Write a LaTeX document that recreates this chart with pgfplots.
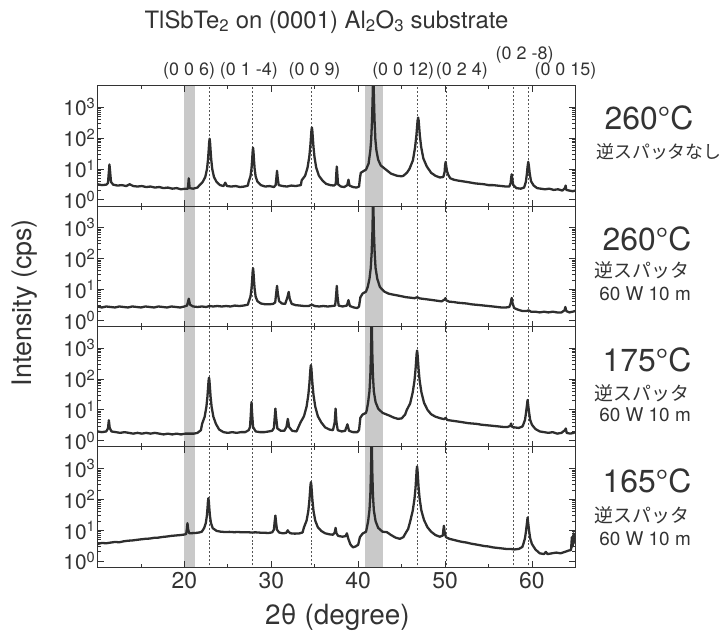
\documentclass[border=0pt]{standalone}
\usepackage{pgfplots}
\pgfplotsset{compat=1.18}
\usepackage{fontspec}
\setmainfont{TeX Gyre Heros}
\newfontfamily\jp{Noto Sans CJK JP}
\definecolor{ink}{HTML}{333333}
\definecolor{curve}{HTML}{2E2E2E}
\definecolor{band}{HTML}{C9C9C9}
\definecolor{guide}{HTML}{555555}

% gray substrate bands + dashed reflection guides, drawn inside each panel
\newcommand\decor{%
  \fill[band] (axis cs:19.9,0.3) rectangle (axis cs:21.2,9000);
  \fill[band] (axis cs:40.8,0.3) rectangle (axis cs:42.8,9000);
  \draw[guide, line width=0.7pt, dash pattern=on 2pt off 2pt] (axis cs:22.9,0.3) -- (axis cs:22.9,9000);
  \draw[guide, line width=0.7pt, dash pattern=on 2pt off 2pt] (axis cs:27.8,0.3) -- (axis cs:27.8,9000);
  \draw[guide, line width=0.7pt, dash pattern=on 2pt off 2pt] (axis cs:34.6,0.3) -- (axis cs:34.6,9000);
  \draw[guide, line width=0.7pt, dash pattern=on 2pt off 2pt] (axis cs:46.8,0.3) -- (axis cs:46.8,9000);
  \draw[guide, line width=0.7pt, dash pattern=on 2pt off 2pt] (axis cs:50.1,0.3) -- (axis cs:50.1,9000);
  \draw[guide, line width=0.7pt, dash pattern=on 2pt off 2pt] (axis cs:57.85,0.3) -- (axis cs:57.85,9000);
  \draw[guide, line width=0.7pt, dash pattern=on 2pt off 2pt] (axis cs:59.6,0.3) -- (axis cs:59.6,9000);
}

\pgfplotsset{
  xrd/.style={
    anchor=south west, scale only axis, width=480pt, height=121pt,
    xmin=10, xmax=65, ymin=0.63, ymax=5000,
    axis on top, axis line style={ink, line width=1.1pt},
    xtick={20,30,40,50,60}, minor xtick={15,25,35,45,55},
    xticklabels={20,30,40,50,60},
    ytick={1,10,100,1000},
    yticklabels={10\textsuperscript{0},10\textsuperscript{1},10\textsuperscript{2},10\textsuperscript{3}},
    tick align=inside, tick style={ink, line width=0.8pt},
    major tick length=6pt, minor tick length=3.5pt,
    yticklabel style={font=\fontsize{21}{21}\selectfont, text=ink, inner sep=2pt},
    xticklabel style={font=\fontsize{23}{23}\selectfont, text=ink, yshift=-1pt},
  },
  upper/.style={xticklabels={}},
  spec/.style={curve, line width=2.3pt, line join=round, mark=none},
}

\begin{document}
\begin{tikzpicture}[x=1pt, y=1pt]
\path (0,0) rectangle (725,632);

% ---- panel 1: 260 C, no reverse sputtering
\begin{semilogyaxis}[xrd, upper, at={(98pt,425pt)}]
\decor
\addplot[spec] coordinates {
(10.0,3.2)(10.5,3.0)(11.0,3.1)(11.2,3.5)(11.3,8)(11.37,14)(11.45,8)(11.55,3.8)(11.8,3.1)(12.3,2.9)
(12.8,3.0)(13.3,2.8)(13.7,3.2)(14.1,2.8)(14.6,2.7)(15.1,2.8)(15.6,2.6)(16.1,2.7)(16.6,2.5)(17.1,2.6)
(17.6,2.4)(18.1,2.5)(18.6,2.3)(19.1,2.4)(19.6,2.2)(20.1,2.3)(20.4,2.3)(20.5,5)(20.6,2.4)(21.0,2.3)
(21.5,2.5)(21.7,2.9)(22.1,3.8)(22.4,5.5)(22.6,10)(22.72,21)(22.8,44)(22.85,73)(22.9,95)(22.95,73)
(23.0,44)(23.08,21)(23.2,10)(23.4,5.5)(23.7,3.8)(24.1,3.0)(24.5,2.8)(24.7,3.6)(24.9,2.8)(25.4,2.7)
(25.9,2.8)(26.4,2.6)(26.9,2.7)(27.3,2.9)(27.4,3.9)(27.6,5.7)(27.72,10.3)(27.8,20.6)(27.85,36)(27.9,49)
(27.95,36)(28.0,20.6)(28.08,10.3)(28.2,5.7)(28.4,3.9)(28.8,3.0)(29.3,2.7)(29.8,2.8)(30.3,2.6)(30.5,3.0)
(30.58,5)(30.66,8.7)(30.74,5)(30.85,3.0)(31.3,2.8)(31.8,2.7)(32.3,2.9)(32.8,2.8)(33.4,3.0)(33.5,4.3)
(33.9,6.1)(34.17,11)(34.37,24.5)(34.49,54)(34.57,111)(34.62,177)(34.67,220)(34.72,177)(34.77,111)(34.85,54)
(34.97,24.5)(35.17,11)(35.47,6.1)(35.87,4.3)(36.3,3.3)(36.8,3.0)(37.2,2.9)(37.42,3.2)(37.48,7)(37.54,12)
(37.6,7)(37.68,3.2)(38.0,2.7)(38.4,2.6)(38.75,3.0)(38.88,4.5)(39.0,2.9)(39.4,2.6)(39.8,2.5)(40.1,2.7)
(40.2,5)(40.3,7.5)(40.6,8.5)(40.9,9.5)(41.0,11)(41.2,15)(41.4,40)(41.5,90)(41.6,400)(41.68,3000)
(41.74,20000)(41.8,3000)(41.88,400)(41.98,90)(42.1,40)(42.3,20)(42.6,13)(43.1,10)(43.8,7)(44.5,6)
(45.0,5.8)(45.2,6.0)(45.6,7.5)(45.9,10)(46.3,19)(46.55,50)(46.7,120)(46.78,230)(46.84,370)(46.9,460)
(46.96,370)(47.02,230)(47.1,120)(47.25,52)(47.5,22)(47.9,12)(48.4,7.5)(48.9,6.0)(49.4,5.3)(49.8,5.5)
(49.95,8)(50.0,13)(50.07,17)(50.14,12)(50.25,8)(50.4,6.2)(50.6,5)(51.0,4.5)(51.5,4.2)(52.0,4.0)
(52.5,3.8)(53.0,3.6)(53.5,3.4)(54.0,3.3)(54.5,3.2)(55.0,3.0)(55.5,3.0)(56.0,2.9)(56.5,2.8)(57.0,2.7)
(57.4,2.7)(57.55,3.5)(57.62,5.5)(57.67,6.7)(57.73,5.0)(57.85,3.0)(58.2,2.4)(58.7,2.3)(59.1,2.5)(59.3,3.8)
(59.42,7)(59.5,12)(59.58,17)(59.66,12)(59.75,7)(59.9,4)(60.2,2.9)(60.6,2.4)(61.0,2.3)(61.5,2.2)
(62.0,2.3)(62.5,2.1)(63.0,2.2)(63.5,2.0)(63.8,2.4)(63.88,2.9)(63.95,2.1)(64.3,2.0)(64.7,1.9)(65.0,2.0)
};
\end{semilogyaxis}

% ---- panel 2: 260 C, reverse sputtering 60 W 10 min
\begin{semilogyaxis}[xrd, upper, at={(98pt,304pt)}]
\decor
\addplot[spec] coordinates {
(10.0,2.8)(10.5,2.6)(11.0,2.8)(11.5,2.7)(12.0,2.6)(12.5,2.8)(13.0,2.7)(13.5,2.6)(14.0,2.8)(14.5,2.7)
(15.0,2.6)(15.5,2.8)(16.0,2.7)(16.5,2.6)(17.0,2.8)(17.5,2.7)(18.0,2.6)(18.5,2.8)(19.0,2.7)(19.5,2.6)
(20.0,2.8)(20.3,3.0)(20.5,5.0)(20.65,3.2)(21.0,2.8)(21.5,2.7)(22.0,2.8)(22.5,2.7)(22.9,2.9)(23.3,2.8)
(23.8,2.9)(24.3,2.8)(24.8,2.9)(25.3,2.8)(25.8,3.0)(26.3,2.9)(26.8,3.0)(27.3,3.2)(27.4,4.0)(27.6,5.8)
(27.72,10.5)(27.8,21)(27.85,36)(27.9,49)(27.95,36)(28.0,21)(28.08,10.5)(28.2,5.8)(28.4,4.2)(28.8,3.5)
(29.3,3.3)(29.8,3.3)(30.2,3.4)(30.45,3.8)(30.55,7)(30.66,13)(30.75,7.5)(30.9,4.2)(31.2,3.5)(31.6,3.4)
(31.85,5.5)(32.0,8.3)(32.12,5)(32.35,3.4)(32.8,3.1)(33.3,3.0)(33.8,2.9)(34.3,2.9)(34.67,3.2)(35.0,2.9)
(35.5,2.8)(36.0,2.9)(36.5,2.8)(37.0,2.9)(37.35,3.0)(37.45,6)(37.54,13)(37.62,6)(37.75,3.0)(38.2,2.8)
(38.7,3.0)(38.88,4.5)(39.05,2.9)(39.5,2.6)(39.9,2.5)(40.1,2.8)(40.25,5.5)(40.5,7.3)(40.9,8.5)(41.1,12)
(41.3,22)(41.45,50)(41.55,150)(41.65,900)(41.72,20000)(41.8,900)(41.9,150)(42.0,50)(42.2,22)(42.5,12)
(43.0,8.5)(43.5,7.3)(44.0,6.8)(44.5,6.4)(45.0,6.0)(45.5,5.6)(46.0,5.4)(46.5,5.2)(46.8,5.6)(47.1,5.1)
(47.6,4.9)(48.1,4.7)(48.6,4.5)(49.1,4.3)(49.6,4.1)(49.95,4.7)(50.05,5.2)(50.15,4.4)(50.5,4.0)(51.0,3.9)
(51.5,3.7)(52.0,3.6)(52.5,3.5)(53.0,3.3)(53.5,3.2)(54.0,3.1)(54.5,3.0)(55.0,2.9)(55.5,2.8)(56.0,2.7)
(56.5,2.6)(57.0,2.6)(57.4,2.7)(57.55,3.5)(57.67,5.3)(57.78,3.5)(57.95,2.5)(58.4,2.2)(58.9,2.0)(59.4,2.0)
(59.6,2.1)(59.9,1.9)(60.4,1.9)(60.9,1.8)(61.4,1.9)(61.9,1.8)(62.4,1.9)(62.9,1.8)(63.4,1.8)(63.75,2.1)
(63.85,2.7)(63.95,2.0)(64.3,1.8)(64.7,1.9)(65.0,2.0)
};
\end{semilogyaxis}

% ---- panel 3: 175 C
\begin{semilogyaxis}[xrd, upper, at={(98pt,183pt)}]
\decor
\addplot[spec] coordinates {
(10.0,2.0)(10.5,1.9)(11.0,2.0)(11.2,2.5)(11.3,4.6)(11.4,2.6)(11.6,2.0)(12.1,1.9)(12.6,1.8)(13.1,1.9)
(13.6,1.8)(14.1,1.7)(14.6,1.8)(15.1,1.7)(15.6,1.8)(16.1,1.7)(16.6,1.8)(17.1,1.7)(17.6,1.6)(18.1,1.7)
(18.6,1.6)(19.1,1.7)(19.6,1.6)(20.1,1.7)(20.6,1.7)(21.1,1.7)(21.5,1.8)(21.9,2.2)(22.03,3.5)(22.33,6)
(22.53,12.6)(22.65,27)(22.73,56)(22.78,88)(22.83,110)(22.88,88)(22.93,56)(23.01,27)(23.13,12.6)(23.33,6)
(23.63,3.5)(24.0,2.3)(24.5,1.9)(25.0,1.8)(25.5,1.9)(26.0,1.8)(26.5,1.9)(27.0,1.9)(27.4,2.2)(27.55,2.8)
(27.64,7)(27.72,18)(27.8,7)(27.9,2.8)(28.2,2.0)(28.7,1.9)(29.2,1.9)(29.7,2.0)(30.1,2.1)(30.3,2.6)
(30.4,6)(30.47,11)(30.55,6)(30.7,2.5)(31.1,2.1)(31.5,2.1)(31.75,2.8)(31.9,5.1)(32.05,2.8)(32.4,2.1)
(32.9,2.0)(33.36,3.9)(33.76,6.2)(34.06,12.7)(34.26,30)(34.38,68)(34.46,141)(34.51,224)(34.56,280)(34.61,224)
(34.66,141)(34.74,68)(34.86,30)(35.06,12.7)(35.36,6.2)(35.76,3.9)(36.2,2.7)(36.7,2.3)(37.1,2.2)(37.3,4)
(37.4,11)(37.5,4)(37.65,2.2)(38.1,2.0)(38.5,2.1)(38.76,3.4)(38.95,2.1)(39.4,1.9)(39.9,1.9)(40.1,2.2)
(40.25,5.5)(40.5,7)(40.9,8)(41.0,10)(41.15,18)(41.3,40)(41.4,130)(41.48,800)(41.55,20000)(41.62,800)
(41.7,130)(41.8,40)(42.0,18)(42.3,11)(42.8,8)(43.1,7.4)(43.6,6.5)(44.1,5.6)(44.6,5.1)(45.0,5.3)
(45.4,7)(45.6,10)(45.98,16)(46.28,37)(46.48,87)(46.6,199)(46.68,418)(46.73,665)(46.78,830)(46.83,665)
(46.88,418)(46.96,199)(47.08,87)(47.28,37)(47.58,17)(47.98,10)(48.4,7.2)(48.9,6.0)(49.4,5.4)(49.9,5.0)
(50.07,5.5)(50.25,4.7)(50.7,4.5)(51.2,4.3)(51.7,4.1)(52.2,3.9)(52.7,3.7)(53.2,3.6)(53.7,3.5)(54.2,3.3)
(54.7,3.2)(55.2,3.1)(55.7,3.0)(56.2,2.9)(56.7,2.8)(57.2,2.8)(57.5,3.0)(57.6,3.6)(57.72,2.8)(58.0,2.7)
(58.5,2.6)(58.9,2.9)(59.0,3.3)(59.2,4.7)(59.32,8)(59.42,13.6)(59.5,21)(59.58,13.6)(59.68,8)(59.8,4.7)
(60.0,3.3)(60.4,2.4)(60.9,2.0)(61.4,1.9)(61.9,1.8)(62.4,1.9)(62.9,1.7)(63.4,1.8)(63.8,2.2)(63.9,2.5)
(64.0,1.8)(64.4,1.7)(64.8,1.8)(65.0,1.9)
};
\end{semilogyaxis}

% ---- panel 4: 165 C
\begin{semilogyaxis}[xrd, at={(98pt,62pt)}]
\decor
\addplot[spec] coordinates {
(10.0,3.6)(10.5,3.9)(11.0,3.8)(11.5,4.0)(12.0,4.2)(12.5,4.1)(13.0,4.4)(13.5,4.6)(14.0,4.7)(14.5,4.9)
(15.0,5.1)(15.5,5.3)(16.0,5.4)(16.5,5.7)(17.0,5.8)(17.5,6.1)(18.0,6.3)(18.5,6.6)(19.0,6.8)(19.5,7.0)
(20.0,7.3)(20.2,7.6)(20.28,11)(20.35,17)(20.42,11)(20.55,8.0)(20.9,8.1)(21.3,8.2)(21.7,8.5)(22.0,9.0)
(22.26,11.7)(22.46,17)(22.58,29)(22.66,54)(22.71,86)(22.76,110)(22.81,86)(22.86,54)(22.94,29)(23.06,17)
(23.26,11.7)(23.7,9.6)(24.2,9.0)(24.7,8.8)(25.2,8.9)(25.7,8.7)(26.2,8.8)(26.7,8.6)(27.2,8.7)(27.7,8.5)
(28.2,8.6)(28.7,8.4)(29.2,8.3)(29.7,8.2)(30.1,8.6)(30.3,10.5)(30.38,18)(30.47,30)(30.55,18)(30.65,10.5)
(30.9,8.5)(31.3,8.0)(31.7,8.2)(31.82,9.2)(31.9,10)(31.98,9)(32.2,8.0)(32.7,7.8)(33.2,7.9)(33.6,8.5)
(33.76,12.5)(34.06,20.5)(34.26,42)(34.38,90)(34.46,184)(34.51,290)(34.56,360)(34.61,290)(34.66,184)(34.74,90)
(34.86,42)(35.06,20.5)(35.36,12.5)(35.76,9.5)(36.2,8.0)(36.7,7.4)(37.1,7.2)(37.3,8.5)(37.4,12)(37.5,8)
(37.7,6.6)(38.2,6.2)(38.55,6.5)(38.7,8)(38.85,5.5)(39.1,3.5)(39.4,2.8)(39.7,3.0)(40.0,3.4)(40.2,6)
(40.5,7.8)(40.9,9)(41.0,12)(41.15,20)(41.3,45)(41.4,140)(41.48,900)(41.55,20000)(41.62,900)(41.7,140)
(41.8,45)(42.0,20)(42.3,12)(42.8,9)(43.3,8.7)(43.8,7)(44.3,5.8)(44.8,5.3)(45.2,6)(45.5,8.5)
(45.75,11)(45.98,19)(46.28,43)(46.48,103)(46.6,233)(46.68,521)(46.73,895)(46.78,1170)(46.83,895)(46.88,521)
(46.96,233)(47.08,103)(47.28,43)(47.58,21.5)(47.98,12.5)(48.4,9)(48.9,7)(49.4,6.2)(49.75,6.8)(49.8,10)
(49.87,14)(49.95,9)(50.1,6.0)(50.5,5.3)(51.0,4.9)(51.5,4.5)(52.0,4.2)(52.5,4.0)(53.0,3.7)(53.5,3.5)
(54.0,3.3)(54.5,3.1)(55.0,3.0)(55.5,2.8)(56.0,2.7)(56.5,2.6)(57.0,2.5)(57.5,2.5)(58.0,2.4)(58.5,2.5)
(58.9,2.9)(59.0,3.5)(59.2,5.5)(59.32,9.5)(59.42,16.5)(59.5,26)(59.58,16.5)(59.68,9.5)(59.8,5.5)(60.0,3.6)
(60.4,2.4)(60.9,1.8)(61.4,1.7)(61.6,2.0)(61.8,1.7)(62.3,1.8)(62.8,1.9)(63.3,1.8)(63.8,2.0)(64.2,2.2)
(64.5,2.3)(64.6,6)(64.7,3)(64.8,8)(64.9,4)(65.0,7)
};
\end{semilogyaxis}

% ---- titles and annotations
\node[font=\fontsize{24}{24}\selectfont, text=ink] at (328,610)
  {TlSbTe\textsubscript{2} on (0001) Al\textsubscript{2}O\textsubscript{3} substrate};
\begin{scope}[font=\fontsize{18}{18}\selectfont, text=ink]
  \node at (190,561) {(0 0 6)};
  \node at (250,561) {(0 1 -4)};
  \node at (316,561) {(0 0 9)};
  \node at (405,561) {(0 0 12)};
  \node at (464,561) {(0 2 4)};
  \node at (527,577) {(0 2 -8)};
  \node at (568,561) {(0 0 15)};
\end{scope}
\node[rotate=90, font=\fontsize{27}{27}\selectfont, text=ink] at (25,328) {Intensity (cps)};
\node[font=\fontsize{28}{28}\selectfont, text=ink] at (339,12) {2θ (degree)};

\begin{scope}[text=ink]
  \node[font=\fontsize{32}{32}\selectfont] at (652,514) {260°C};
  \node[font=\jp\fontsize{18}{18}\selectfont] at (662,480) {逆スパッタなし};
  \node[font=\fontsize{32}{32}\selectfont] at (650,392) {260°C};
  \node[font=\jp\fontsize{19}{19}\selectfont] at (645,360) {逆スパッタ};
  \node[font=\fontsize{19}{19}\selectfont] at (648,337) {60 W 10 m};
  \node[font=\fontsize{32}{32}\selectfont] at (650,270) {175°C};
  \node[font=\jp\fontsize{19}{19}\selectfont] at (645,237) {逆スパッタ};
  \node[font=\fontsize{19}{19}\selectfont] at (648,215) {60 W 10 m};
  \node[font=\fontsize{32}{32}\selectfont] at (650,149) {165°C};
  \node[font=\jp\fontsize{19}{19}\selectfont] at (645,114) {逆スパッタ};
  \node[font=\fontsize{19}{19}\selectfont] at (648,91) {60 W 10 m};
\end{scope}
\end{tikzpicture}
\end{document}
